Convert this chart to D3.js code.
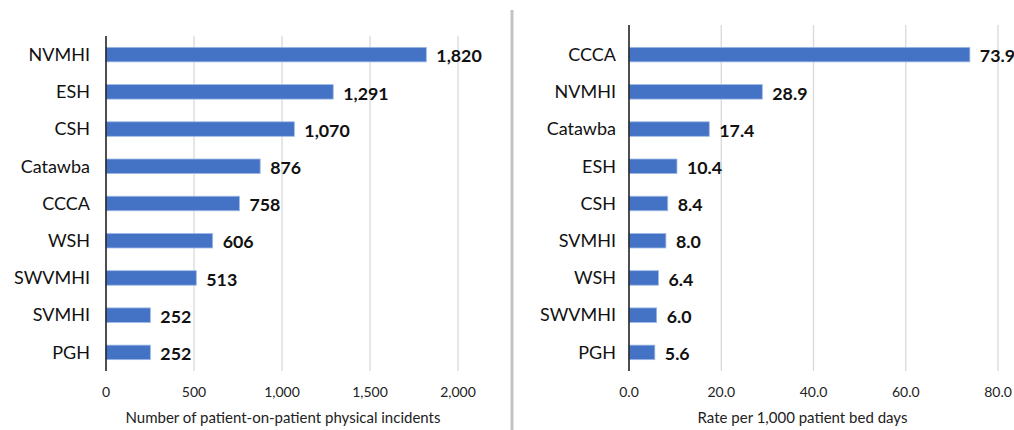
<!DOCTYPE html>
<html><head><meta charset="utf-8">
<script src="https://cdn.jsdelivr.net/npm/d3@7"></script>
<style>body{margin:0;background:#fff;} svg{display:block;font-family:Lato,"Open Sans",sans-serif;}</style>
</head><body>
<svg id="chart" width="1014" height="430"></svg>
<script>
const leftCategories = ["NVMHI","ESH","CSH","Catawba","CCCA","WSH","SWVMHI","SVMHI","PGH"];
const leftValues = [1820,1291,1070,876,758,606,513,252,252];
const leftTicks = [0,500,1000,1500,2000];
const leftTitle = "Number of patient-on-patient physical incidents";

const rightCategories = ["CCCA","NVMHI","Catawba","ESH","CSH","SVMHI","WSH","SWVMHI","PGH"];
const rightValues = [73.9,28.9,17.4,10.4,8.4,8.0,6.4,6.0,5.6];
const rightTicks = [0,20,40,60,80];
const rightTitle = "Rate per 1,000 patient bed days";

const svg = d3.select("#chart");

// divider
svg.append("line").attr("x1",512).attr("x2",512).attr("y1",10).attr("y2",430)
  .attr("stroke","#c3c3c3").attr("stroke-width",3);

function panel(cfg){
  const g = svg.append("g");
  const x = d3.scaleLinear().domain(cfg.domain).range(cfg.xr);
  const y = d3.scaleBand().domain(cfg.cats).range([36,371]).paddingInner(0.61).paddingOuter(0.305);
  g.selectAll(".grid").data(cfg.ticks.slice(1)).join("line")
    .attr("x1",d=>x(d)).attr("x2",d=>x(d)).attr("y1",cfg.top).attr("y2",371)
    .attr("stroke","#d9d9d9").attr("stroke-width",1.3);
  g.selectAll(".bar").data(cfg.vals).join("rect")
    .attr("x",x(0)).attr("y",(d,i)=>y(cfg.cats[i]))
    .attr("width",d=>x(d)-x(0)).attr("height",y.bandwidth())
    .attr("fill","#4472c4").attr("stroke","#9dbae6").attr("stroke-width",0.8);
  g.append("line").attr("x1",x(0)).attr("x2",x(0)).attr("y1",cfg.top).attr("y2",371)
    .attr("stroke","#222").attr("stroke-width",1.6);
  g.selectAll(".cat").data(cfg.cats).join("text")
    .attr("x",x(0)-cfg.catGap).attr("y",d=>y(d)+y.bandwidth()/2)
    .attr("dy","0.35em").attr("text-anchor","end")
    .attr("font-size",18).attr("fill","#111").text(d=>d);
  g.selectAll(".val").data(cfg.vals).join("text")
    .attr("x",d=>x(d)+10).attr("y",(d,i)=>y(cfg.cats[i])+y.bandwidth()/2+1.5)
    .attr("dy","0.35em").attr("font-size",17.8).attr("font-weight","bold").attr("fill","#111")
    .text(d=>cfg.fmt(d));
  g.selectAll(".tick").data(cfg.ticks).join("text")
    .attr("x",d=>x(d)).attr("y",392).attr("dy","0.35em").attr("text-anchor","middle")
    .attr("font-size",14).attr("fill","#222").text(d=>cfg.fmt(d));
  g.append("text").attr("x",(cfg.xr[0]+cfg.xr[1])/2 + cfg.titleShift).attr("y",418).attr("dy","0.35em")
    .attr("text-anchor","middle").attr("font-size",15).attr("fill","#222").text(cfg.title);
}

panel({cats:leftCategories, vals:leftValues, ticks:leftTicks, domain:[0,2000], xr:[106,458],
  top:36, catGap:16, fmt:d3.format(","), title:leftTitle, titleShift:1});
panel({cats:rightCategories, vals:rightValues, ticks:rightTicks, domain:[0,80], xr:[629,998],
  top:25, catGap:13, fmt:d3.format(".1f"), title:rightTitle, titleShift:-11});
</script>
</body></html>
